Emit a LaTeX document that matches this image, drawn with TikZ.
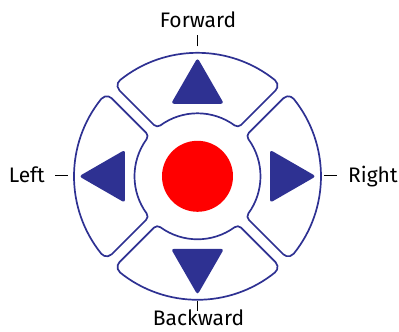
\documentclass[tikz,border=0pt]{standalone}
\usepackage{fontspec}
\setmainfont{Fira Sans}
\usetikzlibrary{calc}
\definecolor{padblue}{HTML}{2E3192}
\definecolor{btnred}{HTML}{FF0000}
\tikzset{
  pad/.style={padblue,line width=1.7pt,line join=round},
  tri/.style={fill=padblue,rounded corners=3pt},
  tick/.style={black,line width=0.8pt},
  lbl/.style={font=\fontsize{21}{25}\selectfont,inner sep=0pt}
}

\begin{document}
\begin{tikzpicture}[x=1pt,y=1pt]
  \useasboundingbox (-197.5,-155.7) rectangle (201.5,176.3);
  \def\Rout{123.5}\def\Rin{63}\def\gap{5.5}\def\co{7}\def\ci{5}
  \pgfmathsetmacro\ao{45-asin((\gap+\co)/(\Rout-\co))}
  \pgfmathsetmacro\ai{45-asin((\gap+\ci)/(\Rin+\ci))}
  \foreach \ang in {0,90,180,270}{
    \begin{scope}[rotate=\ang]
      \draw[pad] (-\ao:\Rout) arc[start angle=-\ao,end angle=\ao,radius=\Rout]
        arc[start angle=\ao,end angle=135,radius=\co]
        -- ($(\ai:\Rin+\ci)+(135:\ci)$)
        arc[start angle=135,end angle=180+\ai,radius=\ci]
        arc[start angle=\ai,end angle=-\ai,radius=\Rin]
        arc[start angle=180-\ai,end angle=225,radius=\ci]
        -- ($(-\ao:\Rout-\co)+(225:\co)$)
        arc[start angle=225,end angle=360-\ao,radius=\co] -- cycle;
      \fill[tri] (72.5,26.5) -- (118.5,0) -- (72.5,-26.5) -- cycle;
    \end{scope}
  }
  \fill[btnred] (0,0) circle[radius=35.5];
  % labels
  \node[lbl,anchor=base] (fwd) at (0.5,148.3) {Forward};
  \node[lbl,anchor=base] (bwd) at (1,-149.5) {Backward};
  \node[lbl,anchor=base east] (lft) at (-152.5,-6.4) {Left};
  \node[lbl,anchor=base west] (rgt) at (150.5,-6) {Right};
  \coordinate (fwdA) at (0,130);    \coordinate (fwdB) at (0,141.5);
  \coordinate (bwdA) at (0,-124.5); \coordinate (bwdB) at (0,-135);
  \coordinate (lftA) at (-129.5,1); \coordinate (lftB) at (-142.5,1);
  \coordinate (rgtA) at (126.5,1);  \coordinate (rgtB) at (139.5,1);
  \draw[tick] (fwdA) -- (fwdB);
  \draw[tick] (bwdA) -- (bwdB);
  \draw[tick] (lftA) -- (lftB);
  \draw[tick] (rgtA) -- (rgtB);
\end{tikzpicture}
\end{document}
